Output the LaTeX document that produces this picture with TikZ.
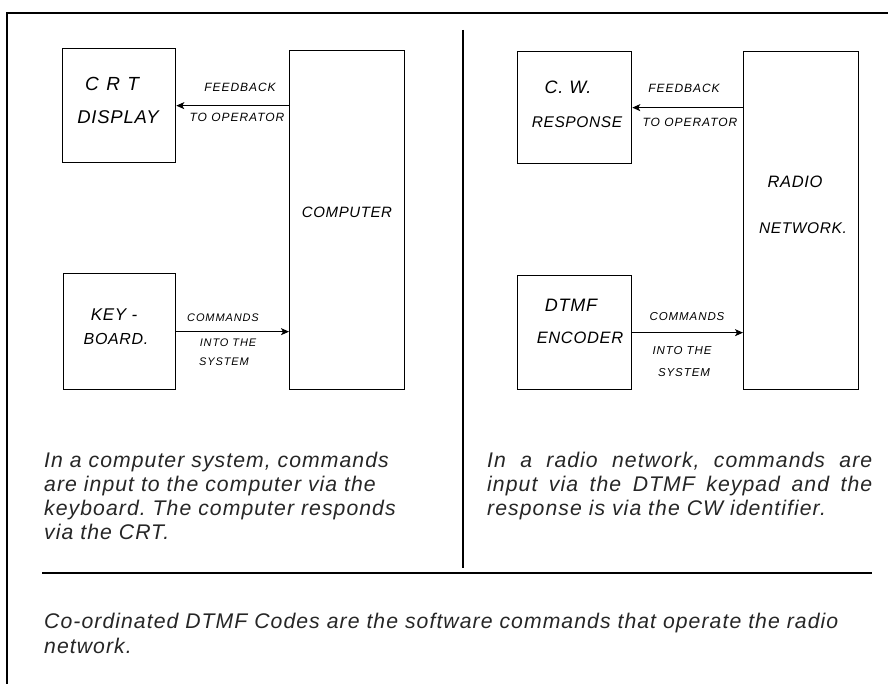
\documentclass[tikz,border=0pt]{standalone}
\usepackage{fontspec}
\setmainfont{Liberation Sans}
\newfontfamily\capfont{Liberation Sans}[LetterSpace=5]
\newfontfamily\handfont{Liberation Sans}[LetterSpace=4]
\newfontfamily\smallhand{Liberation Sans}[LetterSpace=8]
\usetikzlibrary{arrows.meta}
\frenchspacing
\tikzset{
  box/.style={draw, line width=1.3pt, inner sep=0pt, anchor=north west},
  blabel/.style={inner sep=0pt, font=\handfont\itshape},
  alabel/.style={inner sep=0pt, font=\smallhand\itshape\fontsize{12}{13}\selectfont},
  flow/.style={line width=1.1pt, -{Stealth[length=8pt,width=7pt,inset=2pt]}},
  capline/.style={inner sep=0pt, anchor=base west, font=\capfont\itshape\fontsize{21.2}{24}\selectfont, text=black!85},
  rule/.style={line width=1.2pt},
  frame/.style={line width=2.4pt}
}
\begin{document}
\begin{tikzpicture}[x=1pt,y=-1pt]
\useasboundingbox (0,0) rectangle (888,684);
% frame
\coordinate (ftl) at (7,13);
\coordinate (ftr) at (888,13);
\coordinate (fbl) at (7,684);
\draw[frame] (ftr) -- (ftl) -- (fbl);
% dividers
\coordinate (dvt) at (463,30);
\coordinate (dvb) at (463,568);
\draw[rule] (dvt) -- (dvb);
\coordinate (hl) at (42,573);
\coordinate (hr) at (872,573);
\draw[rule] (hl) -- (hr);

% left panel boxes
\node[box, minimum width=113pt, minimum height=114pt] (crt) at (62,48) {};
\node[box, minimum width=115pt, minimum height=339pt] (comp) at (289,50) {};
\node[box, minimum width=112pt, minimum height=116pt] (kbd) at (63,273) {};
% right panel boxes
\node[box, minimum width=114pt, minimum height=112pt] (cw) at (517,51) {};
\node[box, minimum width=115pt, minimum height=338pt] (radio) at (743,51) {};
\node[box, minimum width=114pt, minimum height=114pt] (dtmf) at (517,275) {};

% box labels
\node[blabel, font=\handfont\itshape\addfontfeature{LetterSpace=40}\fontsize{19}{20}\selectfont] (t1) at (112,84) {CRT};
\node[blabel, font=\handfont\itshape\fontsize{18.5}{20}\selectfont] (t2) at (118,117) {DISPLAY};
\node[blabel, font=\handfont\itshape\fontsize{15}{16}\selectfont] (t3) at (347,212) {COMPUTER};
\node[blabel, font=\handfont\itshape\fontsize{17}{18}\selectfont] (t4) at (114,315) {KEY -};
\node[blabel, font=\handfont\itshape\fontsize{16}{18}\selectfont] (t5) at (116,339) {BOARD.};
\node[blabel, font=\handfont\itshape\fontsize{18}{20}\selectfont] (t6) at (568,87) {C.\,\,W.};
\node[blabel, font=\handfont\itshape\fontsize{15.5}{18}\selectfont] (t7) at (577,122) {RESPONSE};
\node[blabel, font=\handfont\itshape\fontsize{16.5}{18}\selectfont] (t8) at (795,182) {RADIO};
\node[blabel, font=\handfont\itshape\fontsize{15.5}{18}\selectfont] (t9) at (803,228) {NETWORK.};
\node[blabel, font=\handfont\itshape\fontsize{18}{20}\selectfont] (t10) at (571,305) {DTMF};
\node[blabel, font=\handfont\itshape\fontsize{16.5}{18}\selectfont] (t11) at (580,338) {ENCODER};

% connectors
\draw[flow] (comp.west |- crt.east) -- (crt.east);
\draw[flow] (kbd.east) -- (comp.west |- kbd.east);
\draw[flow] (radio.west |- cw.east) -- (cw.east);
\draw[flow] (dtmf.east) -- (radio.west |- dtmf.east);

% arrow labels
\node[alabel] (a1) at (240,87) {FEEDBACK};
\node[alabel] (a2) at (237,117) {TO OPERATOR};
\node[alabel, font=\smallhand\itshape\fontsize{11}{12}\selectfont] (a3) at (223,318) {COMMANDS};
\node[alabel, font=\smallhand\itshape\fontsize{11}{12}\selectfont] (a4) at (228,343) {INTO THE};
\node[alabel, font=\smallhand\itshape\fontsize{11}{12}\selectfont] (a5) at (224,362) {SYSTEM};
\node[alabel] (a6) at (684,88) {FEEDBACK};
\node[alabel] (a7) at (690,122) {TO OPERATOR};
\node[alabel, font=\smallhand\itshape\fontsize{11.5}{12}\selectfont] (a8) at (687,317) {COMMANDS};
\node[alabel, font=\smallhand\itshape\fontsize{11.5}{12}\selectfont] (a9) at (682,351) {INTO THE};
\node[alabel, font=\smallhand\itshape\fontsize{11.5}{12}\selectfont] (a10) at (684,373) {SYSTEM};

% captions left
\node[capline] (cl1) at (44,467) {In a computer system, commands};
\node[capline] (cl2) at (44,491) {are input to the computer via the};
\node[capline] (cl3) at (44,515) {keyboard. The computer responds};
\node[capline] (cl4) at (44,539) {via the CRT.};
% captions right (justified)
\node[capline] (cr1) at (487,467) {\makebox[385pt][s]{In a radio network, commands are}};
\node[capline] (cr2) at (487,491) {\makebox[385pt][s]{input via the DTMF keypad and the}};
\node[capline] (cr3) at (487,515) {response is via the CW identifier.};
% bottom caption
\node[capline] (cb1) at (44,628) {Co-ordinated DTMF Codes are the software commands that operate the radio};
\node[capline] (cb2) at (44,653) {network.};
\end{tikzpicture}
\end{document}
